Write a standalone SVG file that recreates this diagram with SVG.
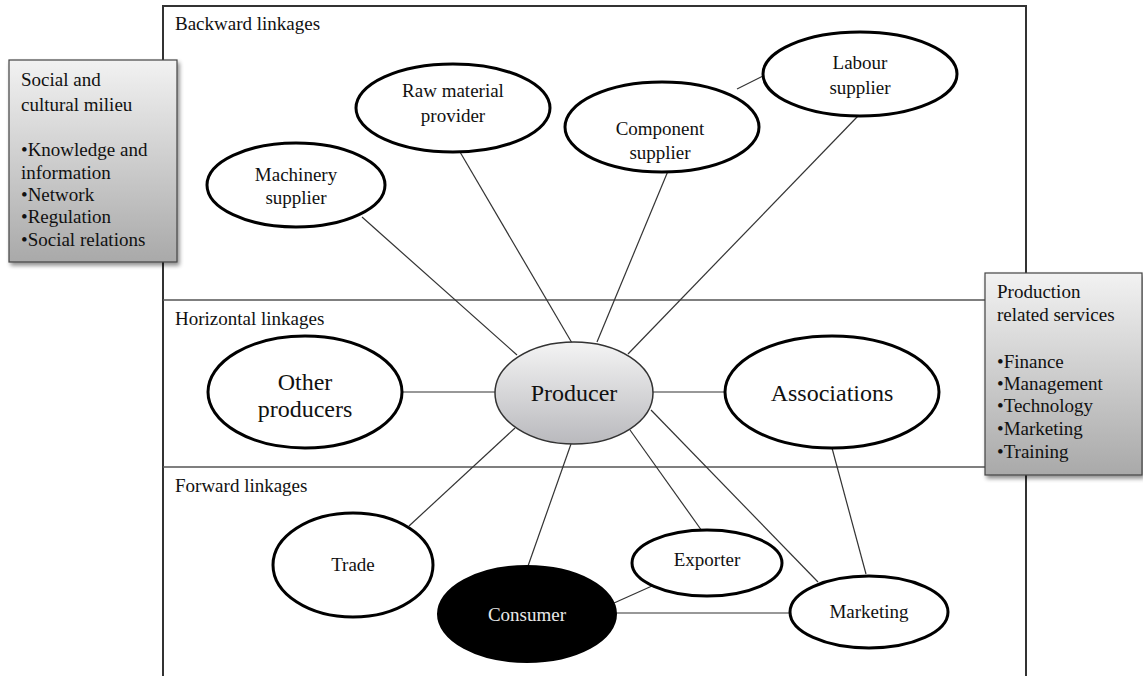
<svg xmlns="http://www.w3.org/2000/svg" width="1143" height="676" viewBox="0 0 1143 676">
<defs>
<linearGradient id="gBox" x1="0" y1="0" x2="0" y2="1">
<stop offset="0" stop-color="#f2f2f2"/>
<stop offset="1" stop-color="#a9a9a9"/>
</linearGradient>
<linearGradient id="gProd" x1="0" y1="0" x2="0" y2="1">
<stop offset="0" stop-color="#f4f4f4"/>
<stop offset="1" stop-color="#b9b9bd"/>
</linearGradient>
<filter id="sh" x="-10%" y="-10%" width="125%" height="125%">
<feGaussianBlur in="SourceAlpha" stdDeviation="2"/>
<feOffset dx="2" dy="3"/>
<feComponentTransfer><feFuncA type="linear" slope="0.45"/></feComponentTransfer>
<feMerge><feMergeNode/><feMergeNode in="SourceGraphic"/></feMerge>
</filter>
</defs>
<style>
text{font-family:"Liberation Serif","Times New Roman",serif;fill:#111}
.lbl{font-size:19px}
.big{font-size:24px}
.sec{font-size:19px}
.el{fill:#fff;stroke:#000;stroke-width:3}
.cn{stroke:#333;stroke-width:1.2;fill:none}
.sep{stroke:#555;stroke-width:1.5}
.side{fill:url(#gBox);stroke:#444;stroke-width:1.2}
.mid{text-anchor:middle}
</style>
<rect width="1143" height="676" fill="#fff"/>
<g id="frame">
<polyline points="163,690 163,6 1026,6 1026,690" fill="none" stroke="#333" stroke-width="2"/>
<line class="sep" x1="163" y1="300" x2="1026" y2="300"/>
<line class="sep" x1="163" y1="467" x2="1026" y2="467"/>
<text class="sec" x="175" y="30">Backward linkages</text>
<text class="sec" x="175" y="325">Horizontal linkages</text>
<text class="sec" x="175" y="492">Forward linkages</text>
</g>
<g id="connectors">
<line class="cn" x1="362" y1="217" x2="517" y2="355"/>
<line class="cn" x1="460" y1="152" x2="572" y2="343"/>
<line class="cn" x1="668" y1="171" x2="597" y2="342"/>
<line class="cn" x1="858" y1="116" x2="628" y2="354"/>
<line class="cn" x1="737" y1="89" x2="763" y2="76"/>
<line class="cn" x1="402" y1="392" x2="495" y2="392"/>
<line class="cn" x1="653" y1="392" x2="725" y2="392"/>
<line class="cn" x1="515" y1="428" x2="409" y2="526"/>
<line class="cn" x1="571" y1="444" x2="528" y2="566"/>
<line class="cn" x1="630" y1="430" x2="702" y2="531"/>
<line class="cn" x1="651" y1="410" x2="818" y2="582"/>
<line class="cn" x1="832" y1="448" x2="866" y2="574"/>
<line class="cn" x1="616" y1="613" x2="790" y2="613"/>
<line class="cn" x1="614" y1="603" x2="652" y2="586"/>
</g>
<g id="social">
<rect class="side" x="9" y="60" width="168" height="202" filter="url(#sh)"/>
<text class="lbl" x="21" y="86">Social and</text>
<text class="lbl" x="21" y="111">cultural milieu</text>
<text class="lbl" x="21" y="156">•Knowledge and</text>
<text class="lbl" x="21" y="179">information</text>
<text class="lbl" x="21" y="201">•Network</text>
<text class="lbl" x="21" y="223">•Regulation</text>
<text class="lbl" x="21" y="246">•Social relations</text>
</g>
<g id="services">
<rect class="side" x="985" y="273" width="157" height="202" filter="url(#sh)"/>
<text class="lbl" x="997" y="298">Production</text>
<text class="lbl" x="997" y="321">related services</text>
<text class="lbl" x="997" y="368">•Finance</text>
<text class="lbl" x="997" y="390">•Management</text>
<text class="lbl" x="997" y="412">•Technology</text>
<text class="lbl" x="997" y="435">•Marketing</text>
<text class="lbl" x="997" y="458">•Training</text>
</g>
<g id="machinery">
<ellipse class="el" cx="296" cy="185" rx="89" ry="42"/>
<text class="lbl mid" x="296" y="181">Machinery</text>
<text class="lbl mid" x="296" y="204">supplier</text>
</g>
<g id="rawmaterial">
<ellipse class="el" cx="453" cy="108" rx="97" ry="44"/>
<text class="lbl mid" x="453" y="97">Raw material</text>
<text class="lbl mid" x="453" y="122">provider</text>
</g>
<g id="component">
<ellipse class="el" cx="662" cy="127" rx="97" ry="45"/>
<text class="lbl mid" x="660" y="135">Component</text>
<text class="lbl mid" x="660" y="159">supplier</text>
</g>
<g id="labour">
<ellipse class="el" cx="860" cy="74" rx="97" ry="42"/>
<text class="lbl mid" x="860" y="69">Labour</text>
<text class="lbl mid" x="860" y="94">supplier</text>
</g>
<g id="otherproducers">
<ellipse class="el" cx="305" cy="392" rx="97" ry="56"/>
<text class="big mid" x="305" y="390">Other</text>
<text class="big mid" x="305" y="417">producers</text>
</g>
<g id="producer">
<ellipse cx="574" cy="393" rx="79" ry="51" fill="url(#gProd)" stroke="#333" stroke-width="1.5"/>
<text class="big mid" x="574" y="401">Producer</text>
</g>
<g id="associations">
<ellipse class="el" cx="832" cy="392" rx="107" ry="56"/>
<text class="big mid" x="832" y="401">Associations</text>
</g>
<g id="trade">
<ellipse class="el" cx="353" cy="565" rx="80" ry="52"/>
<text class="lbl mid" x="353" y="571">Trade</text>
</g>
<g id="exporter">
<ellipse class="el" cx="707" cy="563" rx="75" ry="33"/>
<text class="lbl mid" x="707" y="566">Exporter</text>
</g>
<g id="consumer">
<ellipse cx="527" cy="614" rx="89" ry="48" fill="#000" stroke="#000" stroke-width="2"/>
<text class="lbl mid" x="527" y="621" style="fill:#e8e8e8">Consumer</text>
</g>
<g id="marketing">
<ellipse class="el" cx="869" cy="612" rx="79" ry="36"/>
<text class="lbl mid" x="869" y="618">Marketing</text>
</g>
</svg>
